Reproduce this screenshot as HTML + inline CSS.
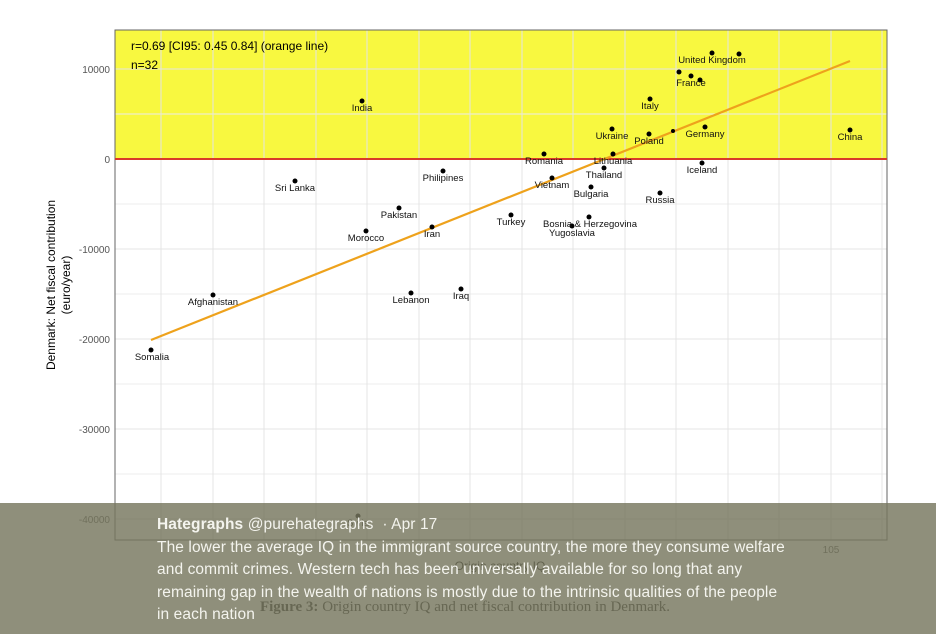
<!DOCTYPE html>
<html><head><meta charset="utf-8"><style>
body{margin:0;width:936px;height:634px;overflow:hidden;background:#fff;font-family:"Liberation Sans",sans-serif}
.ov{position:absolute;left:0;top:503px;width:936px;height:131px;background:rgba(118,118,94,0.82)}
.t{position:absolute;color:#f4f4ee;font-size:15.5px;line-height:22.5px;left:157px;top:514px;white-space:nowrap;letter-spacing:0.1px}
</style></head><body>
<svg width="936" height="634" style="position:absolute;left:0;top:0" font-family="Liberation Sans, sans-serif">
<rect x="115" y="30" width="772" height="129" fill="#f8f840"/>
<g stroke="#ececec" stroke-width="1">
<line x1="115" x2="887" y1="114" y2="114"/><line x1="115" x2="887" y1="204" y2="204"/><line x1="115" x2="887" y1="294" y2="294"/><line x1="115" x2="887" y1="384" y2="384"/><line x1="115" x2="887" y1="474" y2="474"/>
</g>
<g stroke="#e4e4e4" stroke-width="1">
<line x1="115" x2="887" y1="69" y2="69"/><line x1="115" x2="887" y1="249" y2="249"/><line x1="115" x2="887" y1="339" y2="339"/><line x1="115" x2="887" y1="429" y2="429"/><line x1="115" x2="887" y1="519" y2="519"/>
<line x1="161" x2="161" y1="30" y2="540"/><line x1="213" x2="213" y1="30" y2="540"/><line x1="264" x2="264" y1="30" y2="540"/><line x1="316" x2="316" y1="30" y2="540"/><line x1="367" x2="367" y1="30" y2="540"/><line x1="419" x2="419" y1="30" y2="540"/><line x1="470" x2="470" y1="30" y2="540"/><line x1="522" x2="522" y1="30" y2="540"/><line x1="573" x2="573" y1="30" y2="540"/><line x1="625" x2="625" y1="30" y2="540"/><line x1="676" x2="676" y1="30" y2="540"/><line x1="728" x2="728" y1="30" y2="540"/><line x1="779" x2="779" y1="30" y2="540"/><line x1="831" x2="831" y1="30" y2="540"/><line x1="882" x2="882" y1="30" y2="540"/>
</g>
<rect x="115" y="30" width="772" height="510" fill="none" stroke="#666" stroke-width="1"/>
<line x1="115" x2="887" y1="159" y2="159" stroke="#d93a2a" stroke-width="2"/>
<line x1="151" y1="340" x2="850" y2="61" stroke="#eea21c" stroke-width="2.2"/>
<g font-size="10" fill="#555" text-anchor="end">
<text x="110" y="73">10000</text><text x="110" y="163">0</text><text x="110" y="253">-10000</text><text x="110" y="343">-20000</text><text x="110" y="433">-30000</text><text x="110" y="523">-40000</text>
</g>
<text x="831" y="553" font-size="10" fill="#555" text-anchor="middle">105</text>
<text transform="translate(55,285) rotate(-90)" font-size="12" text-anchor="middle">Denmark: Net fiscal contribution</text>
<text transform="translate(70,285) rotate(-90)" font-size="12" text-anchor="middle">(euro/year)</text>
<text x="500" y="570" font-size="12" text-anchor="middle">Origin country IQ</text>
<text x="131" y="50" font-size="12">r=0.69 [CI95: 0.45 0.84] (orange line)</text>
<text x="131" y="69" font-size="12">n=32</text>
<g fill="#000">
<circle cx="151" cy="350" r="2.5"/><circle cx="213" cy="295" r="2.5"/><circle cx="295" cy="181" r="2.5"/><circle cx="362" cy="101" r="2.5"/><circle cx="366" cy="231" r="2.5"/><circle cx="399" cy="208" r="2.5"/><circle cx="432" cy="227" r="2.5"/><circle cx="411" cy="293" r="2.5"/><circle cx="461" cy="289" r="2.5"/><circle cx="443" cy="171" r="2.5"/><circle cx="358" cy="516" r="2.5"/><circle cx="511" cy="215" r="2.5"/><circle cx="544" cy="154" r="2.5"/><circle cx="552" cy="178" r="2.5"/><circle cx="589" cy="217" r="2.5"/><circle cx="572" cy="226" r="2.5"/><circle cx="591" cy="187" r="2.5"/><circle cx="604" cy="168" r="2.5"/><circle cx="613" cy="154" r="2.5"/><circle cx="612" cy="129" r="2.5"/><circle cx="649" cy="134" r="2.5"/><circle cx="660" cy="193" r="2.5"/><circle cx="650" cy="99" r="2.5"/><circle cx="679" cy="72" r="2.5"/><circle cx="691" cy="76" r="2.5"/><circle cx="700" cy="80" r="2.5"/><circle cx="712" cy="53" r="2.5"/><circle cx="739" cy="54" r="2.5"/><circle cx="705" cy="127" r="2.5"/><circle cx="702" cy="163" r="2.5"/><circle cx="850" cy="130" r="2.5"/><circle cx="673" cy="131" r="2"/>
</g>
<g font-size="9.5" text-anchor="middle" fill="#111">
<text x="152" y="360">Somalia</text><text x="213" y="305">Afghanistan</text><text x="295" y="191">Sri Lanka</text><text x="362" y="111">India</text><text x="366" y="241">Morocco</text><text x="399" y="218">Pakistan</text><text x="432" y="237">Iran</text><text x="411" y="303">Lebanon</text><text x="461" y="299">Iraq</text><text x="443" y="181">Philipines</text><text x="511" y="225">Turkey</text><text x="544" y="164">Romania</text><text x="552" y="188">Vietnam</text><text x="590" y="227">Bosnia &amp; Herzegovina</text><text x="572" y="236">Yugoslavia</text><text x="591" y="197">Bulgaria</text><text x="604" y="178">Thailand</text><text x="613" y="164">Lithuania</text><text x="612" y="139">Ukraine</text><text x="649" y="144">Poland</text><text x="660" y="203">Russia</text><text x="650" y="109">Italy</text><text x="691" y="86">France</text><text x="712" y="63">United Kingdom</text><text x="705" y="137">Germany</text><text x="702" y="173">Iceland</text><text x="850" y="140">China</text><text x="358" y="526">Syria</text>
</g>
<text x="465" y="611" font-family="Liberation Serif, serif" font-size="15" text-anchor="middle" fill="#222"><tspan font-weight="bold">Figure 3:</tspan> Origin country IQ and net fiscal contribution in Denmark.</text>
</svg>
<div class="ov"></div>
<div class="t"><b>Hategraphs</b> @purehategraphs &nbsp;· Apr 17<br>The lower the average IQ in the immigrant source country, the more they consume welfare<br>and commit crimes. Western tech has been universally available for so long that any<br>remaining gap in the wealth of nations is mostly due to the intrinsic qualities of the people<br>in each nation</div>
</body></html>
